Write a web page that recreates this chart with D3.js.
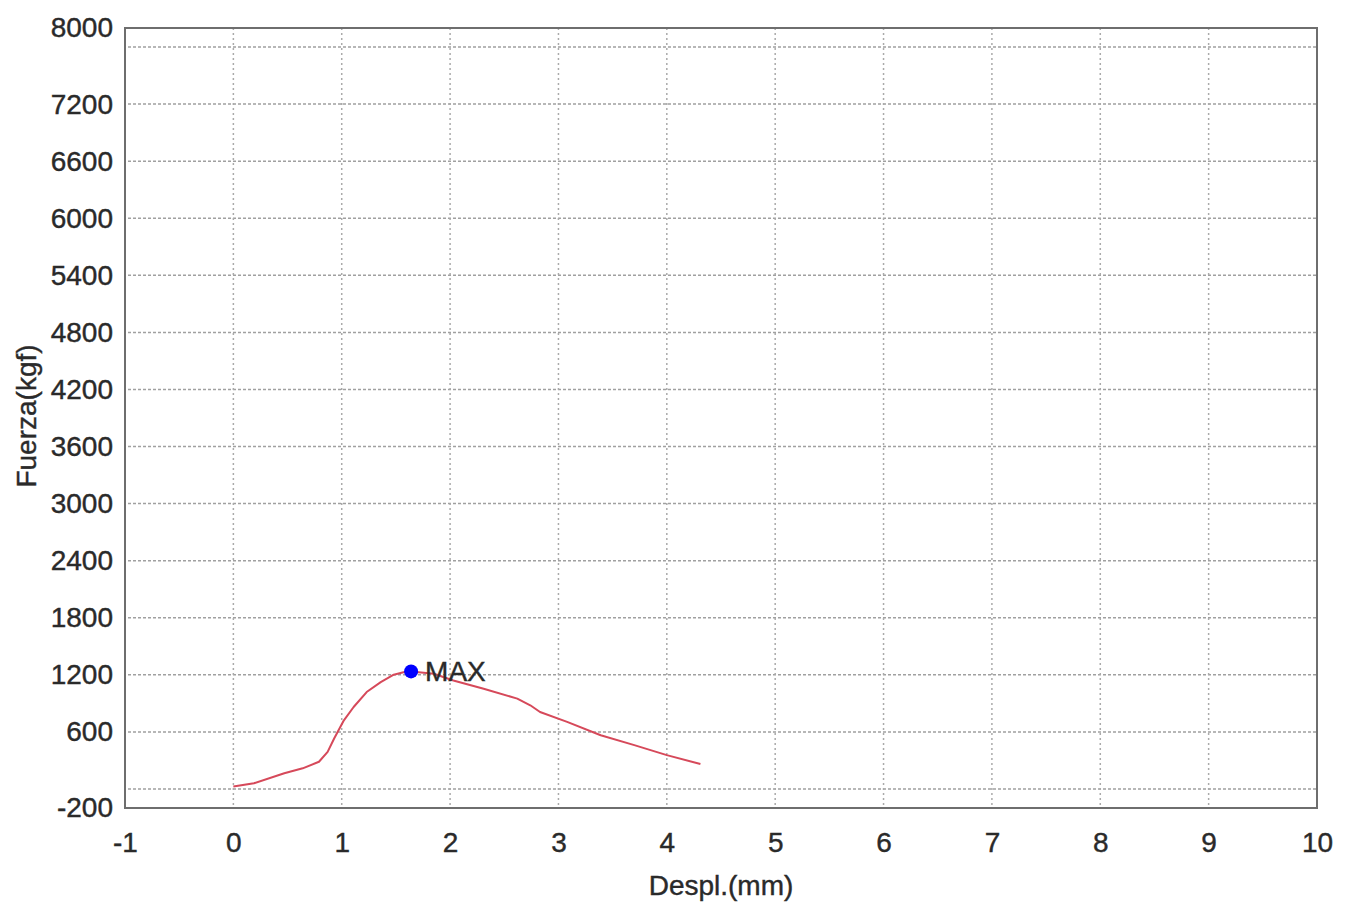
<!DOCTYPE html>
<html>
<head>
<meta charset="utf-8">
<script src="https://cdn.jsdelivr.net/npm/d3@7"></script>
<style>
  body { margin: 0; background: #fff; }
  svg { display: block; }
  text { font-family: "Liberation Sans", Arial, sans-serif; fill: #2a2a2a; stroke: #2a2a2a; stroke-width: 0.4px; }
</style>
</head>
<body>
<svg width="1347" height="904"></svg>
<script>
var svg = d3.select("svg");

// data
var despl = [0.0, 0.19, 0.47, 0.64, 0.79, 0.87, 0.93, 1.02, 1.11, 1.23, 1.36, 1.48, 1.57, 1.64,
             1.85, 2.03, 2.31, 2.62, 2.74, 2.83, 3.08, 3.39, 3.70, 4.00, 4.31];
var fuerza = [25, 60, 165, 217, 286, 390, 530, 722, 862, 1019, 1123, 1201, 1228, 1236,
              1211, 1141, 1054, 950, 880, 809, 705, 565, 461, 356, 262];
var maxPoint = { x: 1.64, y: 1236, label: "MAX" };

var xTicks = [-1, 0, 1, 2, 3, 4, 5, 6, 7, 8, 9, 10];
var yTickLabels = [8000, 7200, 6600, 6000, 5400, 4800, 4200, 3600, 3000, 2400, 1800, 1200, 600, -200];
var yGrid = [0, 600, 1200, 1800, 2400, 3000, 3600, 4200, 4800, 5400, 6000, 6600, 7200, 7800];

var plotL = 125, plotR = 1317, plotT = 28, plotB = 808;

var x = d3.scaleLinear().domain([-1, 10]).range([plotL, plotR]);
var y = d3.scaleLinear().domain([-200, 8000]).range([plotB, plotT]);

// grid
var grid = svg.append("g").attr("class", "grid");
grid.selectAll("line.h")
    .data(yGrid)
    .enter().append("line")
    .attr("class", "h")
    .attr("x1", plotL + 3).attr("x2", plotR)
    .attr("y1", function(d) { return y(d); })
    .attr("y2", function(d) { return y(d); })
    .attr("stroke", "#a0a0a0")
    .attr("stroke-width", 1.5)
    .attr("stroke-dasharray", "3,2");
grid.selectAll("line.v")
    .data(xTicks.slice(1, -1))
    .enter().append("line")
    .attr("class", "v")
    .attr("y1", plotT).attr("y2", plotB)
    .attr("x1", function(d) { return x(d); })
    .attr("x2", function(d) { return x(d); })
    .attr("stroke", "#aaaaaa")
    .attr("stroke-width", 1.5)
    .attr("stroke-dasharray", "2,3");

// frame
svg.append("rect")
    .attr("x", plotL).attr("y", plotT)
    .attr("width", plotR - plotL).attr("height", plotB - plotT)
    .attr("fill", "none")
    .attr("stroke", "#6e6e6e")
    .attr("stroke-width", 2);

// axes (labels only), plain hyphen for negatives like the original
var xAxis = d3.axisBottom(x).tickValues(xTicks).tickSize(0).tickPadding(24)
    .tickFormat(String);
var gx = svg.append("g").attr("transform", "translate(0," + plotB + ")").call(xAxis);
gx.select(".domain").remove();
gx.selectAll("text").attr("font-size", 28).attr("font-family", null).attr("fill", null);

var yAxis = d3.axisLeft(y).tickValues(yTickLabels).tickSize(0).tickPadding(12)
    .tickFormat(String);
var gy = svg.append("g").attr("transform", "translate(" + plotL + ",0)").call(yAxis);
gy.select(".domain").remove();
gy.selectAll("text").attr("font-size", 28).attr("font-family", null).attr("fill", null);

// titles
svg.append("text")
    .attr("x", (plotL + plotR) / 2)
    .attr("y", 895)
    .attr("text-anchor", "middle")
    .attr("font-size", 28)
    .text("Despl.(mm)");
svg.append("text")
    .attr("transform", "translate(36,416) rotate(-90)")
    .attr("text-anchor", "middle")
    .attr("font-size", 28)
    .text("Fuerza(kgf)");

// curve
var line = d3.line()
    .x(function(d) { return x(d[0]); })
    .y(function(d) { return y(d[1]); });
svg.append("path")
    .datum(d3.zip(despl, fuerza))
    .attr("d", line)
    .attr("fill", "none")
    .attr("stroke", "#d6495a")
    .attr("stroke-width", 2)
    .attr("stroke-linejoin", "round");

// max marker
svg.append("circle")
    .attr("cx", x(maxPoint.x)).attr("cy", y(maxPoint.y))
    .attr("r", 7)
    .attr("fill", "#0000ff");
svg.append("text")
    .attr("x", x(maxPoint.x) + 14)
    .attr("y", y(maxPoint.y))
    .attr("dy", "0.36em")
    .attr("font-size", 28)
    .text(maxPoint.label);
</script>
</body>
</html>
